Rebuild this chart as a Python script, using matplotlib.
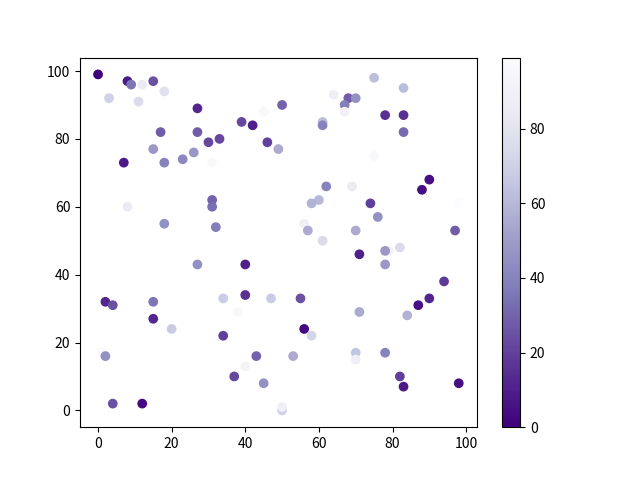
import numpy as np
import matplotlib.pyplot as plt

plt.rcParams['font.family'] = ['Noto Sans CJK SC', 'DejaVu Sans']

# values
x = [0, 8, 9, 12, 15, 3, 11, 18, 27, 45, 50, 39, 42, 17, 27, 30, 33, 46, 49, 15,
     7, 18, 23, 26, 31, 31, 31, 8, 18, 32,
     75, 83, 64, 68, 70, 67, 67, 78, 83, 61, 61, 83, 75, 62, 69, 90, 88, 60, 58, 74,
     76, 98, 56, 57, 70, 97, 61,
     27, 40, 2, 4, 15, 15, 20, 34, 40, 47, 38, 34, 1, 2, 43, 40, 37, 45, 4, 12,
     71, 79, 78, 82, 78, 94, 90, 87, 84, 55, 71, 56, 58, 53, 70, 70, 78, 82, 83, 98,
     50, 50]
y = [99, 97, 96, 96, 97, 92, 91, 94, 89, 88, 90, 85, 84, 82, 82, 79, 80, 79, 77, 77,
     73, 73, 74, 76, 73, 62, 60, 60, 55, 54,
     98, 95, 93, 92, 92, 90, 88, 87, 87, 85, 84, 82, 75, 66, 66, 68, 65, 62, 61, 61,
     57, 61, 55, 53, 53, 53, 50,
     43, 43, 32, 31, 32, 27, 24, 33, 34, 33, 29, 22, 17, 16, 16, 13, 10, 8, 2, 2,
     46, 47, 47, 48, 43, 38, 33, 31, 28, 33, 29, 24, 22, 16, 17, 15, 17, 10, 7, 8,
     0, 1]
c = [0, 8, 35, 85, 25, 70, 75, 78, 12, 95, 30, 22, 10, 28, 28, 22, 22, 20, 55, 48,
     8, 40, 42, 48, 96, 30, 33, 85, 45, 38,
     62, 62, 88, 28, 45, 38, 90, 15, 15, 62, 40, 32, 95, 40, 85, 5, 5, 60, 58, 20,
     45, 99, 88, 55, 55, 28, 75,
     45, 10, 12, 25, 35, 12, 68, 68, 15, 68, 95, 20, 97, 45, 30, 92, 22, 45, 25, 3,
     10, 90, 48, 75, 48, 18, 12, 5, 58, 25, 55, 3, 72, 55, 65, 88, 40, 20, 8, 5,
     70, 88]

fig, ax = plt.subplots(figsize=(6.4, 4.8), dpi=100)
sc = ax.scatter(x, y, c=c, cmap='Purples_r')
fig.colorbar(sc, ax=ax)

fig.savefig('out.png')
